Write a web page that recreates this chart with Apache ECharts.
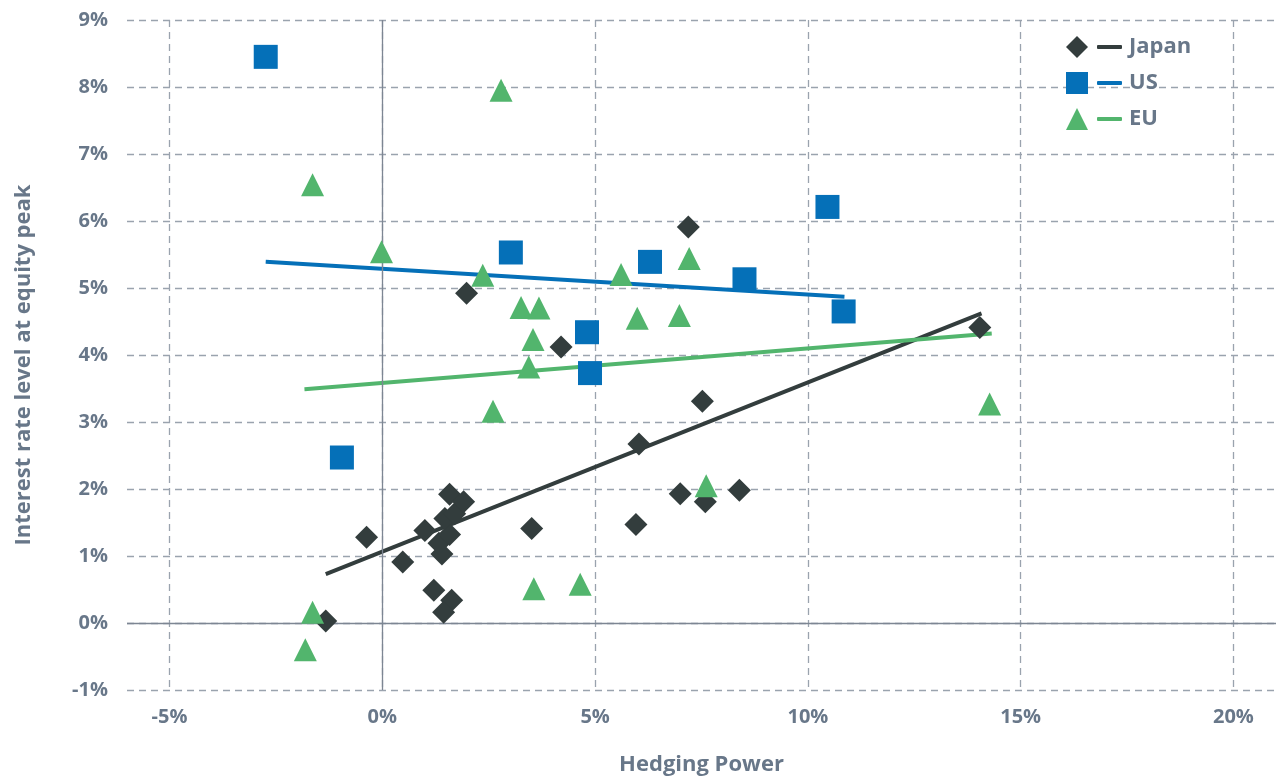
<!DOCTYPE html>
<html>
<head>
<meta charset="utf-8">
<script src="https://cdn.jsdelivr.net/npm/echarts@6/dist/echarts.min.js"></script>
<style>html,body{margin:0;padding:0;background:#fff;}#c{width:1280px;height:781px;}</style>
</head>
<body>
<div id="c"></div>
<script>
// ---- data (x = hedging power %, y = interest rate %) ----
const japanPoints = [
  [-1.33, 0.03], [-0.37, 1.28], [0.48, 0.91], [1.00, 1.38], [1.21, 0.49],
  [1.63, 0.34], [1.44, 0.16], [1.40, 1.03], [1.33, 1.19], [1.58, 1.32],
  [1.47, 1.56], [1.70, 1.63], [1.58, 1.92], [1.91, 1.81], [1.98, 4.92],
  [3.51, 1.41], [4.20, 4.12], [5.96, 1.47], [6.03, 2.67], [7.19, 5.91],
  [7.00, 1.93], [7.52, 3.31], [7.59, 1.81], [8.39, 1.98], [14.04, 4.41]
];
const usPoints = [
  [-2.74, 8.45], [-0.95, 2.47], [3.02, 5.53], [4.81, 4.34], [4.88, 3.73],
  [6.29, 5.39], [8.51, 5.13], [10.46, 6.21], [10.84, 4.65]
];
const euPoints = [
  [2.79, 7.95], [-1.64, 6.54], [-0.02, 5.54], [2.36, 5.19], [3.26, 4.71],
  [3.68, 4.70], [3.54, 4.23], [3.44, 3.82], [2.60, 3.16], [5.61, 5.20],
  [5.99, 4.55], [7.21, 5.44], [6.98, 4.59], [7.61, 2.05], [14.27, 3.27],
  [-1.64, 0.16], [-1.81, -0.40], [3.56, 0.51], [4.65, 0.58]
];
const japanTrend = [[-1.33, 0.73], [14.08, 4.62]];
const usTrend = [[-2.74, 5.39], [10.86, 4.87]];
const euTrend = [[-1.83, 3.49], [14.32, 4.32]];
const seriesNames = ['Japan', 'US', 'EU'];
const xTickValues = [-5, 0, 5, 10, 15, 20];
const yTickMin = -1, yTickMax = 9, yTickStep = 1;
const xMin = -6, xMax = 21;

// ---- styles ----
const colors = { Japan: '#333d3d', US: '#0570b8', EU: '#52b56d' };
const txt = '#687789';
const font = 'Open Sans';
const gridColor = '#9aa3ae';
const zeroColor = '#7d8693';

const chart = echarts.init(document.getElementById('c'), null, { renderer: 'canvas' });

function scatter(name, data, symbol, size) {
  return {
    name: name, type: 'scatter', data: data, symbol: symbol, symbolSize: size,
    itemStyle: { color: colors[name], opacity: 1 }, z: 5, silent: true
  };
}
function trend(name, data) {
  return {
    name: name + ' trend', type: 'line', data: data, symbol: 'none',
    lineStyle: { color: colors[name], width: 4 }, z: 3, silent: true
  };
}

const legendBase = { orient: 'vertical', padding: 0, selectedMode: false };

chart.setOption({
  animation: false,
  grid: { left: 127, right: 4, top: 20, bottom: 88, containLabel: false },
  legend: [
    Object.assign({}, legendBase, {
      left: 1066, top: 36, itemWidth: 22, itemHeight: 22, itemGap: 14,
      formatter: function () { return ''; },
      data: [
        { name: 'Japan', icon: 'diamond' },
        { name: 'US', icon: 'rect' },
        { name: 'EU', icon: 'triangle' }
      ]
    }),
    Object.assign({}, legendBase, {
      left: 1097, top: 36, itemWidth: 25, itemHeight: 4, itemGap: 14,
      textStyle: { color: txt, fontSize: 22, fontWeight: 'bold', fontFamily: font, lineHeight: 22, padding: [0, 0, 0, 2] },
      data: seriesNames.map(function (n) { return { name: n, icon: 'roundRect' }; })
    })
  ],
  xAxis: {
    type: 'value', min: xMin, max: xMax,
    name: 'Hedging Power', nameLocation: 'middle', nameGap: 64,
    nameTextStyle: { color: txt, fontSize: 22, fontWeight: 'bold', fontFamily: font },
    axisLine: { show: false, onZero: false },
    axisTick: { show: false, customValues: xTickValues },
    axisLabel: {
      customValues: xTickValues, color: txt, fontSize: 20, fontWeight: 'bold', fontFamily: font, margin: 17,
      formatter: function (v) { return v + '%'; }
    },
    splitLine: { show: true, lineStyle: { color: gridColor, type: [7, 5], width: 1.3 } }
  },
  yAxis: {
    type: 'value', min: yTickMin, max: yTickMax, interval: yTickStep,
    name: 'Interest rate level at equity peak', nameLocation: 'middle', nameGap: 92,
    nameTextStyle: { color: txt, fontSize: 22, fontWeight: 'bold', fontFamily: font, padding: [0, 20, 0, 0] },
    axisLine: { show: false },
    axisTick: { show: false },
    axisLabel: {
      color: txt, fontSize: 20, fontWeight: 'bold', fontFamily: font, margin: 19,
      formatter: function (v) { return v + '%'; }
    },
    splitLine: { show: true, lineStyle: { color: gridColor, type: [7, 5], width: 1.3 } }
  },
  series: [
    scatter('Japan', japanPoints, 'diamond', 23),
    scatter('US', usPoints, 'rect', 24),
    scatter('EU', euPoints, 'triangle', 23),
    trend('Japan', japanTrend),
    trend('US', usTrend),
    Object.assign(trend('EU', euTrend), {
      markLine: {
        silent: true, symbol: 'none', animation: false,
        label: { show: false },
        lineStyle: { color: zeroColor, type: 'solid', width: 1.3 },
        data: [{ xAxis: 0 }, { yAxis: 0 }]
      }
    })
  ]
});
</script>
</body>
</html>
